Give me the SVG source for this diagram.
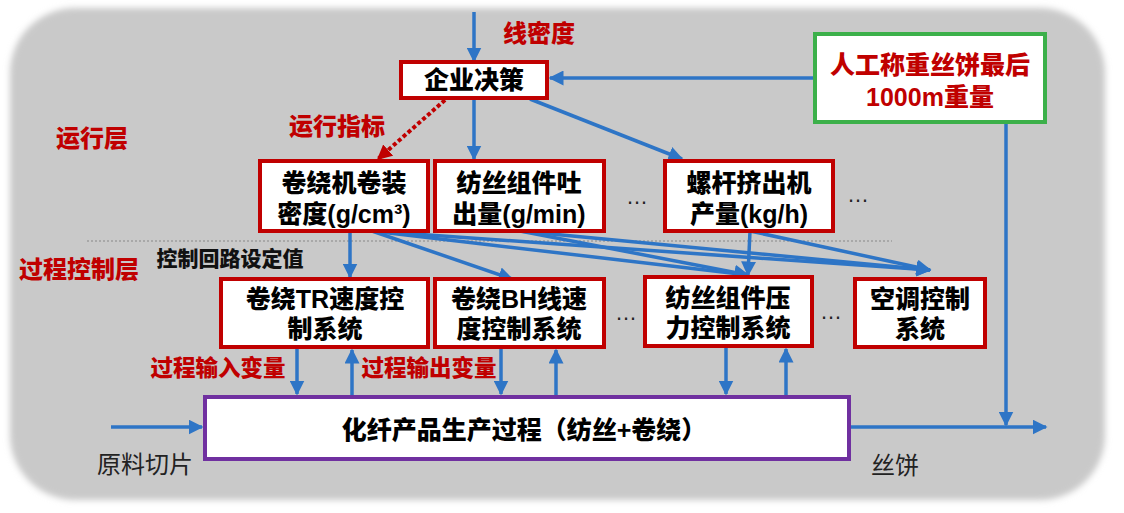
<svg xmlns="http://www.w3.org/2000/svg" width="1124" height="513" viewBox="0 0 1124 513">
<defs>
<filter id="soft" x="-5%" y="-5%" width="110%" height="110%"><feGaussianBlur stdDeviation="3"/></filter>
<marker id="ab" viewBox="0 0 10 10" refX="9" refY="5" markerWidth="15" markerHeight="15" markerUnits="userSpaceOnUse" orient="auto"><path d="M0,0 L10,5 L0,10 z" fill="#2e75c6"/></marker>
<marker id="ar" viewBox="0 0 10 10" refX="9" refY="5" markerWidth="15" markerHeight="15" markerUnits="userSpaceOnUse" orient="auto"><path d="M0,0 L10,5 L0,10 z" fill="#c00000"/></marker>
<style>
.t{font-family:"Liberation Sans","Noto Sans CJK SC",sans-serif;font-weight:900;text-anchor:middle;dominant-baseline:central;}
.nt{font-size:25px;fill:#000;}
.rl{font-size:24px;fill:#c00000;}
.rs{font-size:22.5px;fill:#c00000;}
.bl{font-size:21px;fill:#111;}
.pl{font-family:"Noto Sans CJK SC",sans-serif;font-size:24px;fill:#222;text-anchor:middle;dominant-baseline:central;}
.dots{font-family:"Liberation Sans",sans-serif;font-size:22px;fill:#222;text-anchor:middle;}
.rb{fill:#fff;stroke:#c00000;stroke-width:4;}
.c line{stroke:#2e75c6;stroke-width:3.5;fill:none;marker-end:url(#ab);}
</style>
</defs>
<rect x="10" y="8" width="1095" height="492" rx="65" ry="65" fill="#c9c9c9" filter="url(#soft)"/>
<line x1="87" y1="241" x2="892" y2="241" stroke="#a8a8a8" stroke-width="2" stroke-dasharray="2 2"/>

<g id="connectors" class="c">
<line x1="474" y1="12" x2="474" y2="61"/>
<line x1="813" y1="78" x2="550" y2="78"/>
<line x1="474" y1="100" x2="474" y2="159"/>
<line x1="530" y1="99" x2="682" y2="159"/>
<line x1="445" y1="100" x2="378" y2="159" style="stroke:#c00000;stroke-width:4;stroke-dasharray:4 2.5;marker-end:url(#ar)"/>
<line x1="1006" y1="123" x2="1006" y2="425"/>
<line x1="851" y1="427" x2="1046" y2="427"/>
<line x1="111" y1="427" x2="202" y2="427"/>
<line x1="350" y1="232" x2="350" y2="277"/>
<line x1="372" y1="231" x2="512" y2="279"/>
<line x1="372" y1="231" x2="748" y2="275"/>
<line x1="372" y1="231" x2="930" y2="270"/>
<line x1="520" y1="231" x2="748" y2="275"/>
<line x1="520" y1="231" x2="930" y2="270"/>
<line x1="750" y1="231" x2="748" y2="275"/>
<line x1="750" y1="231" x2="930" y2="270"/>
<line x1="297" y1="349" x2="297" y2="394"/>
<line x1="352" y1="396" x2="352" y2="350"/>
<line x1="501" y1="349" x2="501" y2="394"/>
<line x1="556" y1="396" x2="556" y2="350"/>
<line x1="726" y1="348" x2="726" y2="394"/>
<line x1="786" y1="396" x2="786" y2="349"/>
</g>

<g id="n-decision"><rect class="rb" x="401" y="62" width="146" height="36"/><text class="t nt" x="474" y="80">企业决策</text></g>
<g id="n-weigh"><rect x="815" y="34" width="230" height="88" fill="#fff" stroke="#3cb04a" stroke-width="4"/><text class="t nt" style="fill:#c00000" x="930" y="65">人工称重丝饼最后</text><text class="t nt" style="fill:#c00000" x="930" y="97">1000m重量</text></g>
<g id="n-density"><rect class="rb" x="260" y="161" width="168" height="70"/><text class="t nt" x="344" y="183">卷绕机卷装</text><text class="t nt" x="344" y="214">密度(g/cm³)</text></g>
<g id="n-output"><rect class="rb" x="435" y="161" width="169" height="70"/><text class="t nt" x="519" y="183">纺丝组件吐</text><text class="t nt" x="519" y="214">出量(g/min)</text></g>
<g id="n-extruder"><rect class="rb" x="665" y="161" width="168" height="70"/><text class="t nt" x="749" y="183">螺杆挤出机</text><text class="t nt" x="749" y="214">产量(kg/h)</text></g>
<g id="n-tr"><rect class="rb" x="221" y="279" width="207" height="68"/><text class="t nt" x="325" y="299">卷绕TR速度控</text><text class="t nt" x="325" y="329">制系统</text></g>
<g id="n-bh"><rect class="rb" x="435" y="279" width="169" height="68"/><text class="t nt" x="519" y="299">卷绕BH线速</text><text class="t nt" x="519" y="329">度控制系统</text></g>
<g id="n-pressure"><rect class="rb" x="645" y="277" width="167" height="69"/><text class="t nt" x="728" y="298">纺丝组件压</text><text class="t nt" x="728" y="328">力控制系统</text></g>
<g id="n-ac"><rect class="rb" x="855" y="279" width="130" height="68"/><text class="t nt" x="920" y="299">空调控制</text><text class="t nt" x="920" y="329">系统</text></g>
<g id="n-process"><rect x="205" y="397" width="644" height="62" fill="#fff" stroke="#7030a0" stroke-width="4"/><text class="t nt" x="524" y="430">化纤产品生产过程（纺丝+卷绕）</text></g>

<g id="labels">
<text class="t rl" x="539" y="33">线密度</text>
<text class="t rl" x="337" y="126">运行指标</text>
<text class="t rl" x="92" y="138">运行层</text>
<text class="t rl" x="79" y="269">过程控制层</text>
<text class="t bl" x="230" y="258">控制回路设定值</text>
<text class="t rs" x="218" y="368">过程输入变量</text>
<text class="t rs" x="429" y="368">过程输出变量</text>
<text class="pl" x="145" y="462">原料切片</text>
<text class="pl" x="895" y="463">丝饼</text>
<text class="dots" x="637" y="204">…</text>
<text class="dots" x="858" y="202">…</text>
<text class="dots" x="626" y="320">…</text>
<text class="dots" x="831" y="319">…</text>
</g>
</svg>
